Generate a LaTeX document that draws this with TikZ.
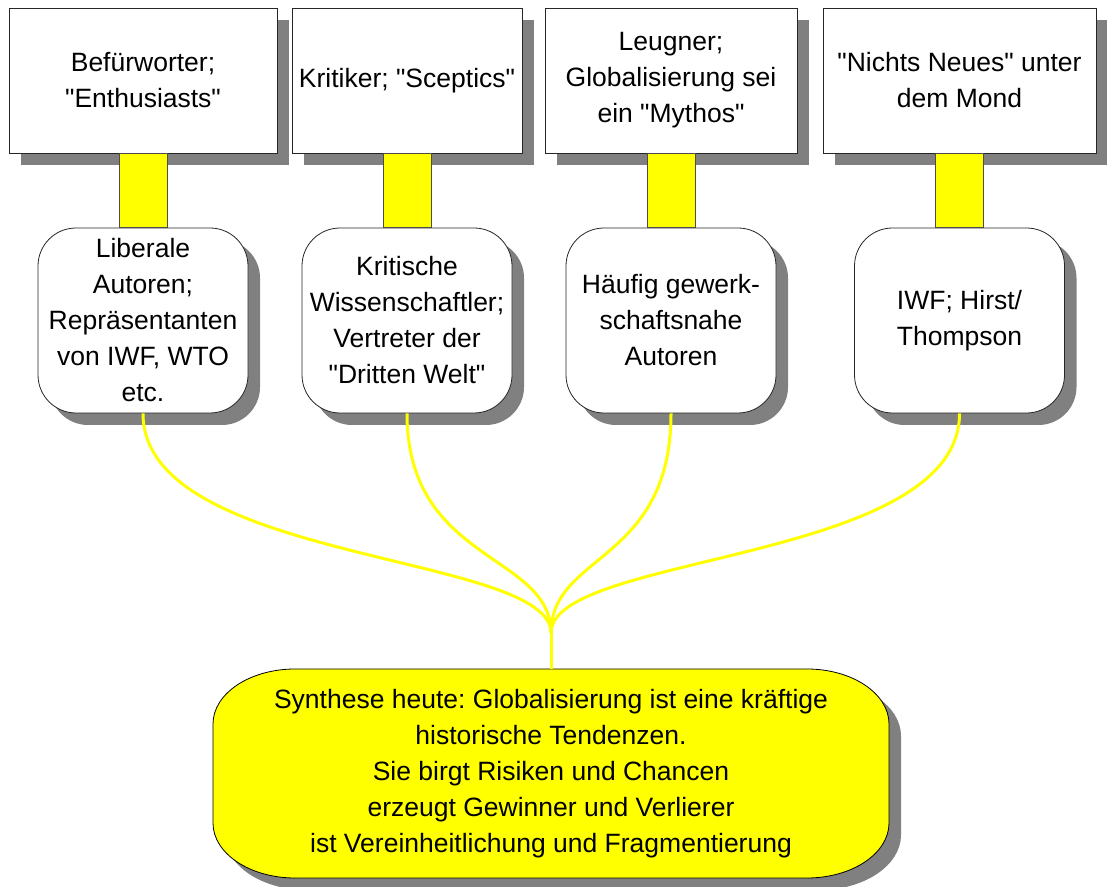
\documentclass[tikz,border=0pt]{standalone}
\usepackage{fontspec}
\setmainfont{Liberation Sans}[Ligatures=TeXOff]
\usetikzlibrary{shadows,calc}
\frenchspacing
\definecolor{yel}{RGB}{255,255,0}
\definecolor{shgray}{RGB}{128,128,128}
\newcommand\synpath{(295,217) -- (807,217) arc[start angle=90,end angle=0,x radius=82,y radius=55] -- (889,63) arc[start angle=0,end angle=-90,x radius=82,y radius=55] -- (295,8) arc[start angle=270,end angle=180,x radius=82,y radius=55] -- (213,162) arc[start angle=180,end angle=90,x radius=82,y radius=55] -- cycle}
\begin{document}
\begin{tikzpicture}[x=1pt,y=1pt,
  txt/.style={align=center,font=\fontsize{26.5}{36}\selectfont\frenchspacing,inner sep=0pt},
  sh/.style={drop shadow={shadow xshift=12pt,shadow yshift=-12pt,fill=shgray,opacity=1}},
  topbox/.style={txt,sh,draw=black!85,line width=0.8pt,fill=white,minimum width=#1,minimum height=145pt},
  roundbox/.style={txt,sh,draw=black!85,line width=0.8pt,fill=white,minimum width=210pt,minimum height=185pt,rounded corners=38pt},
  stembox/.style={fill=yel,draw=black!70,line width=0.6pt},
  conn/.style={draw=yel,line width=3pt},
]
\useasboundingbox (0,0) rectangle (1107,886);

% top boxes
\node[topbox=268pt] (t1) at (143,805.5) {Befürworter;\\"Enthusiasts"};
\node[topbox=230pt] (t2) at (407,805.5) {Kritiker; "Sceptics"};
\node[topbox=252pt] (t3) at (671,805.5) {Leugner;\\Globalisierung sei\\ein "Mythos"};
\node[topbox=273pt] (t4) at (959.5,805.5) {"Nichts Neues" unter\\dem Mond};

% rounded boxes
\node[roundbox] (r1) at (143,565.5) {Liberale\\Autoren;\\Repräsentanten\\von IWF, WTO\\etc.};
\node[roundbox] (r2) at (407,565.5) {Kritische\\Wissenschaftler;\\Vertreter der\\"Dritten Welt"};
\node[roundbox] (r3) at (671,565.5) {Häufig gewerk-\\schaftsnahe\\Autoren};
\node[roundbox] (r4) at (959.5,565.5) {IWF; Hirst/\\Thompson};

% stems
\draw[stembox] ([xshift=-24pt]t1.south) rectangle ([xshift=24pt]r1.north);
\draw[stembox] ([xshift=-24pt]t2.south) rectangle ([xshift=24pt]r2.north);
\draw[stembox] ([xshift=-24pt]t3.south) rectangle ([xshift=24pt]r3.north);
\draw[stembox] ([xshift=-24pt]t4.south) rectangle ([xshift=24pt]r4.north);

% synthesis box
\begin{scope}[shift={(12,-12)}]
  \fill[shgray] \synpath;
\end{scope}
\filldraw[fill=yel,draw=black,line width=0.8pt] \synpath;
\node[txt,minimum width=676pt,minimum height=209pt] (syn) at (551,112.5)
  {Synthese heute: Globalisierung ist eine kräftige\\historische Tendenzen.\\Sie birgt Risiken und Chancen\\erzeugt Gewinner und Verlierer\\ist Vereinheitlichung und Fragmentierung};

% connectors
\coordinate (m) at (551,253);
\draw[conn] (r1.south) .. controls ($(r1.south)+(0,-150)$) and ($(m)+(0,80)$) .. (m);
\draw[conn] (r2.south) .. controls ($(r2.south)+(0,-150)$) and ($(m)+(0,80)$) .. (m);
\draw[conn] (r3.south) .. controls ($(r3.south)+(0,-150)$) and ($(m)+(0,80)$) .. (m);
\draw[conn] (r4.south) .. controls ($(r4.south)+(0,-150)$) and ($(m)+(0,80)$) .. (m);
\draw[conn] (m) -- (syn.north);
\end{tikzpicture}
\end{document}
